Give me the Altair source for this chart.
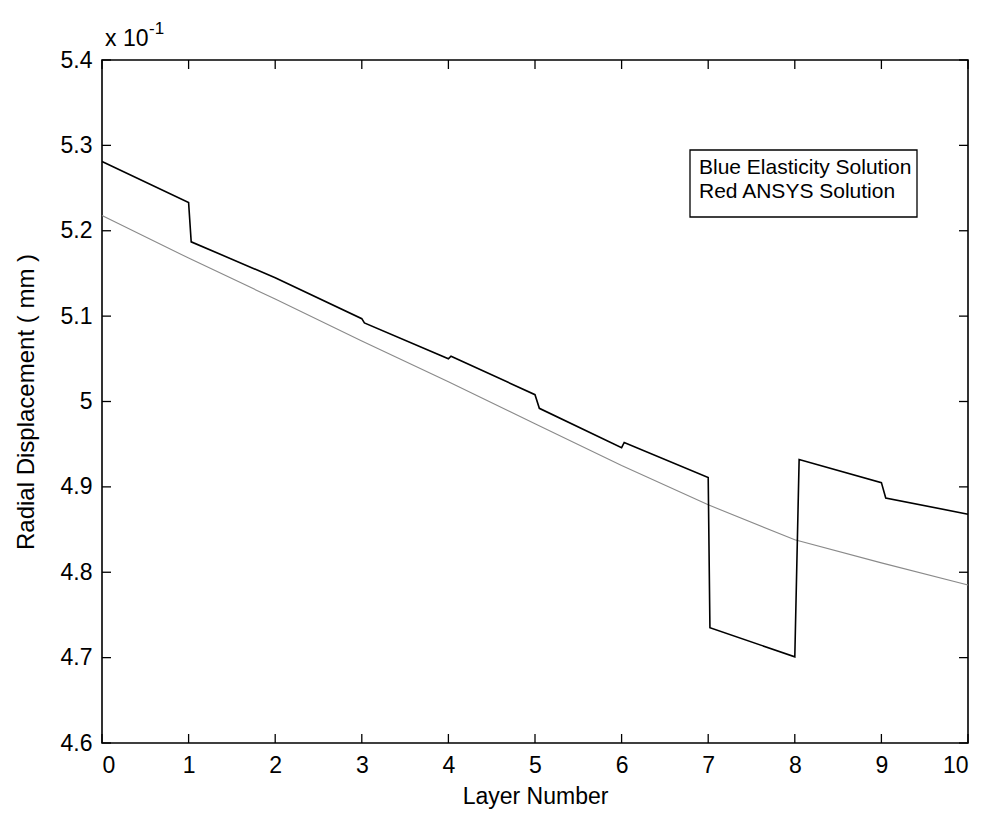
import altair as alt
import pandas as pd

# Elasticity solution: piecewise per layer, with jumps at layer interfaces
elastic_layer = [0.0, 1.0, 1.03, 2.0, 3.0, 3.03, 4.0, 4.03, 5.0, 5.05,
                 6.0, 6.03, 7.0, 7.02, 8.0, 8.05, 9.0, 9.05, 10.0]
elastic_disp = [5.281, 5.233, 5.187, 5.145, 5.097, 5.092, 5.050, 5.053, 5.008, 4.992,
                4.946, 4.952, 4.911, 4.735, 4.701, 4.932, 4.905, 4.887, 4.868]

# ANSYS solution: smooth decay through the thickness
ansys_layer = [0, 1, 2, 3, 4, 5, 6, 7, 8, 9, 10]
ansys_disp = [5.218, 5.168, 5.120, 5.071, 5.023, 4.974, 4.925, 4.879, 4.838, 4.811, 4.785]

x_ticks = list(range(0, 11))
y_ticks = [0.46, 0.47, 0.48, 0.49, 0.50, 0.51, 0.52, 0.53, 0.54]

legend_lines = ["Blue Elasticity Solution", "Red ANSYS Solution"]
exponent_base = "x 10"
exponent_power = "-1"

# displacements are plotted in mm; axis labels show them scaled by 10
elastic = pd.DataFrame({"layer": elastic_layer, "disp": [v / 10 for v in elastic_disp]})
ansys = pd.DataFrame({"layer": ansys_layer, "disp": [v / 10 for v in ansys_disp]})
xt = pd.DataFrame({"layer": x_ticks})
yt = pd.DataFrame({"disp": y_ticks})

W, H = 866, 683
FONT = "Liberation Sans"
TICK = 9

xscale = alt.Scale(domain=[0, 10], nice=False, zero=False)
yscale = alt.Scale(domain=[0.46, 0.54], nice=False, zero=False)

x_axis = alt.Axis(values=x_ticks, ticks=False, domain=False, grid=False, format="d",
                  labelFont=FONT, labelFontSize=23, labelColor="black", labelPadding=11,
                  title="Layer Number", titleFont=FONT, titleFontSize=23,
                  titleFontWeight="normal", titleColor="black", titlePadding=8)
y_axis = alt.Axis(values=y_ticks, ticks=False, domain=False, grid=False,
                  labelFont=FONT, labelFontSize=23, labelColor="black", labelPadding=10,
                  labelExpr="format(datum.value * 10, '.2~f')",
                  title="Radial Displacement ( mm )", titleFont=FONT, titleFontSize=24,
                  titleFontWeight="normal", titleColor="black", titlePadding=22)

X = alt.X("layer:Q", scale=xscale, axis=x_axis)
Y = alt.Y("disp:Q", scale=yscale, axis=y_axis)


def px(val):
    return alt.value(val)


ansys_line = alt.Chart(ansys).mark_line(color="#8a8a8a", strokeWidth=1.1).encode(x=X, y=Y)

elastic_line = alt.Chart(elastic).mark_line(color="black", strokeWidth=1.6).encode(
    x=X, y=Y, order="layer:Q")

# inward-pointing ticks on all four sides of the frame
rule = dict(color="black", strokeWidth=1.3)
tick_bottom = alt.Chart(xt).mark_rule(**rule).encode(x=X, y=px(H), y2=px(H - TICK))
tick_top = alt.Chart(xt).mark_rule(**rule).encode(x=X, y=px(0), y2=px(TICK))
tick_left = alt.Chart(yt).mark_rule(**rule).encode(y=Y, x=px(0), x2=px(TICK))
tick_right = alt.Chart(yt).mark_rule(**rule).encode(y=Y, x=px(W), x2=px(W - TICK))

# exponent note above the y axis
exp_base = alt.Chart(pd.DataFrame({"t": [exponent_base]})).mark_text(
    font=FONT, fontSize=23, align="left", baseline="alphabetic", color="black"
).encode(text="t:N", x=px(3), y=px(-14))
exp_power = alt.Chart(pd.DataFrame({"t": [exponent_power]})).mark_text(
    font=FONT, fontSize=17, align="left", baseline="alphabetic", color="black"
).encode(text="t:N", x=px(47), y=px(-26))

# legend box with two lines of text
box = alt.Chart(pd.DataFrame({"k": [0]})).mark_rect(
    fill="white", stroke="black", strokeWidth=1.3
).encode(x=px(588), x2=px(815), y=px(90), y2=px(157))
legend_style = dict(font=FONT, fontSize=21, align="left", baseline="alphabetic", color="black")
legend_1 = alt.Chart(pd.DataFrame({"t": [legend_lines[0]]})).mark_text(**legend_style).encode(
    text="t:N", x=px(597), y=px(114))
legend_2 = alt.Chart(pd.DataFrame({"t": [legend_lines[1]]})).mark_text(**legend_style).encode(
    text="t:N", x=px(597), y=px(138))

chart = alt.layer(
    ansys_line, elastic_line, tick_bottom, tick_top, tick_left, tick_right,
    exp_base, exp_power, box, legend_1, legend_2,
).properties(
    width=W, height=H,
    autosize=alt.AutoSizeParams(type="none"),
    padding={"left": 102, "top": 60, "right": 14, "bottom": 71},
    background="white",
).configure_view(stroke="black", strokeWidth=1.6)

chart.save("out.html", embed_options={"renderer": "svg", "actions": False})
